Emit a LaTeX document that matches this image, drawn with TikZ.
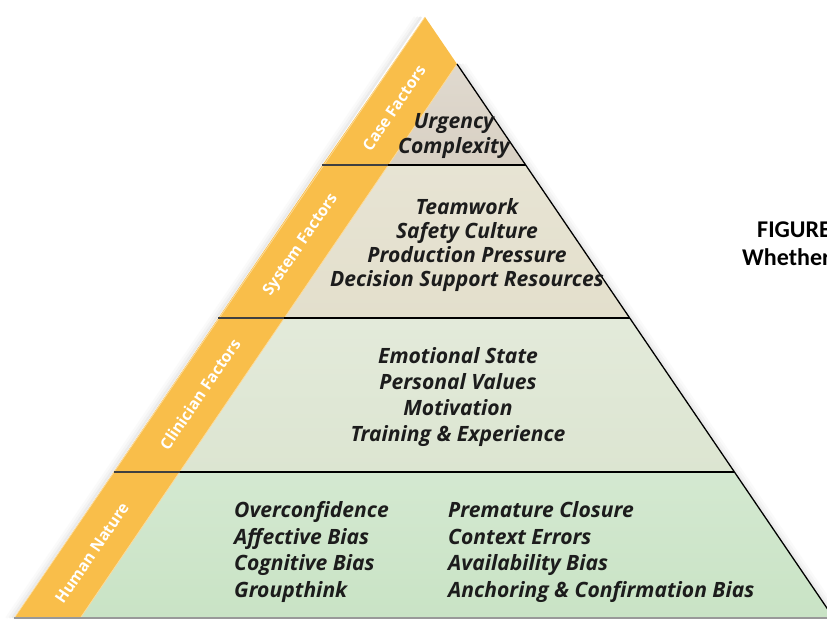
\documentclass[tikz,border=0pt]{standalone}
\usepackage{fontspec}
\setmainfont{Open Sans}
\newfontfamily\capfont{Carlito}
\usetikzlibrary{positioning}
\definecolor{mband}{RGB}{249,190,74}
\definecolor{mcase}{RGB}{216,208,195}
\definecolor{msys}{RGB}{227,223,204}
\definecolor{mclin}{RGB}{220,229,209}
\definecolor{mhuman}{RGB}{201,227,197}
\definecolor{mtext}{RGB}{28,28,28}
\tikzset{
  factor/.style={font=\fontsize{18}{20.5}\selectfont\bfseries\itshape, text=mtext, align=center, inner sep=0pt},
  bandlabel/.style={font=\fontsize{13.5}{15}\selectfont\bfseries, text=white, rotate=55.8, inner sep=0pt},
  divider/.style={line width=2.4pt},
  captext/.style={font=\capfont\fontsize{20.5}{25}\selectfont\bfseries, anchor=base west, inner sep=0pt},
}

\begin{document}
\begin{tikzpicture}[x=0.03cm,y=-0.03cm]
      \useasboundingbox (0,0) rectangle (827,622);
      \begin{scope}
      \clip (0,0) rectangle (827,622);

      \coordinate (apex) at (425,17);
      \coordinate (tip) at (457,64);
      \coordinate (o1) at (322.4,165);
      \coordinate (i1) at (388.4,165);
      \coordinate (r1) at (525.6,165);
      \coordinate (o2) at (218.3,318);
      \coordinate (i2) at (284.3,318);
      \coordinate (r2) at (629.7,318);
      \coordinate (o3) at (113.6,472);
      \coordinate (i3) at (179.6,472);
      \coordinate (r3) at (734.4,472);
      \coordinate (o4) at (14.3,618);
      \coordinate (i4) at (80.3,618);
      \coordinate (r4) at (833.7,618);

      \foreach \s/\o in {2/0.16, 5/0.09, 8/0.04} {
        \draw [gray, opacity=\o, line width=2pt] ({423-\s},17) -- ({14.3-\s},618);
        \draw [gray, opacity=\o, line width=2pt] ({457+\s},64) -- ({833.7+\s},618);
      }

      \shade [top color=mcase!80!white, bottom color=mcase] (tip) -- (r1) -- (i1) -- cycle;
      \shade [top color=msys!85!white, bottom color=msys] (i1) -- (r1) -- (r2) -- (i2) -- cycle;
      \shade [top color=mclin!80!white, bottom color=mclin] (i2) -- (r2) -- (r3) -- (i3) -- cycle;
      \shade [top color=mhuman!80!white, bottom color=mhuman] (i3) -- (r3) -- (r4) -- (i4) -- cycle;

      \fill [mband] (apex) -- (tip) -- (i1) -- (o1) -- cycle;
      \fill [mband] (o1) -- (i1) -- (i2) -- (o2) -- cycle;
      \fill [mband] (o2) -- (i2) -- (i3) -- (o3) -- cycle;
      \fill [mband] (o3) -- (i3) -- (i4) -- (o4) -- cycle;
      \draw [mband!55!white, line width=0.6pt] (apex) -- (o4);
      \draw [mband!55!white, line width=0.6pt] (tip) -- (i4);

      \foreach \n in {1, 2, 3} {
        \draw [black!75, line width=1.1pt] (o\n) -- (i\n);
        \draw [divider] (i\n) -- (r\n);
      }
      \draw [line width=1.1pt] (tip) -- (r4);
      \draw [gray!80, line width=1.2pt] (o4) -- (r4);

      \node [bandlabel] (casetag) at (394,108) {Case Factors};
      \node [bandlabel] (systag) at (301,245) {System Factors};
      \node [bandlabel] (clintag) at (200,394) {Clinician Factors};
      \node [bandlabel] (humantag) at (92,553) {Human Nature};

      \node [factor] (casetxt) at (454,136) {Urgency\\Complexity};
      \node [factor] (systxt) at (467,245) {Teamwork\\Safety Culture\\Production Pressure\\Decision Support Resources};
      \node [factor, font=\fontsize{18}{22}\selectfont\bfseries\itshape] (clintxt) at (458,397) {Emotional State\\Personal Values\\Motivation\\Training \& Experience};
      \node [factor, font=\fontsize{18}{22.5}\selectfont\bfseries\itshape, anchor=west, align=left] (humanleft) at (234,552) {Overconfidence\\Affective Bias\\Cognitive Bias\\Groupthink};
      \node [factor, font=\fontsize{18}{22.5}\selectfont\bfseries\itshape, anchor=west, align=left] (humanright) at (448,552) {Premature Closure\\Context Errors\\Availability Bias\\Anchoring \& Confirmation Bias};

      \node [captext] (figtitle) at (757,238) {FIGURE};
      \node [captext] (figsub) at (742,266) {Whether};
      \end{scope}
    \end{tikzpicture}
\end{document}
